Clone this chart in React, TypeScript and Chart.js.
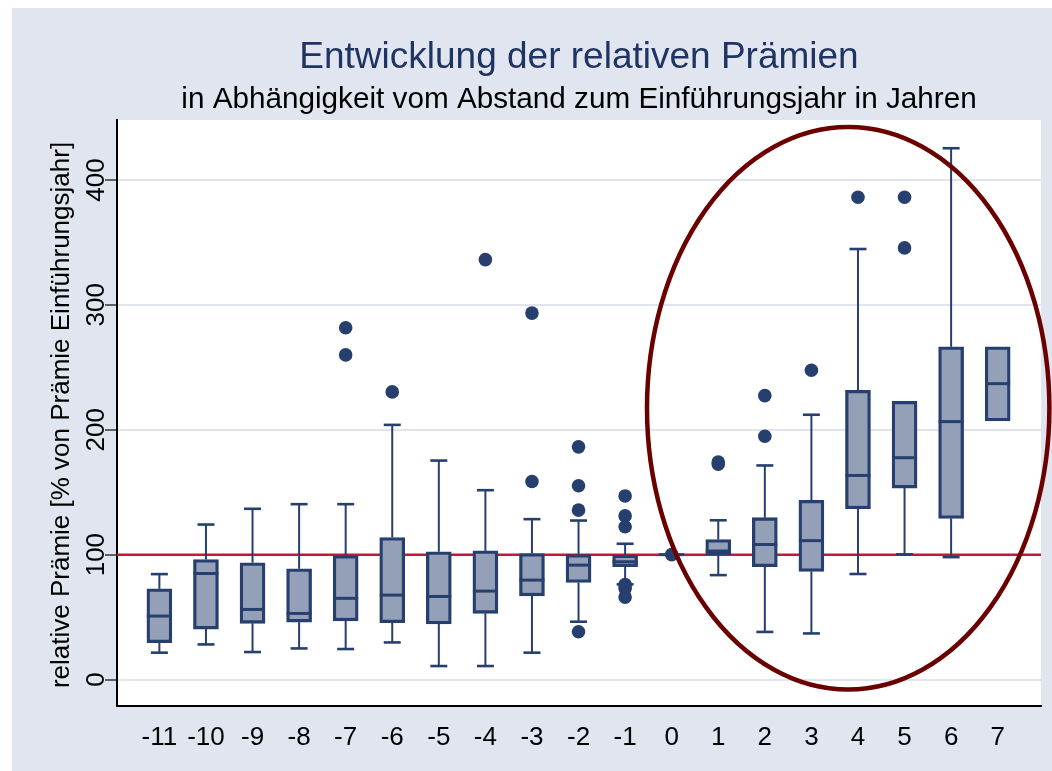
import React, { useEffect, useRef } from "react";
import { Chart, registerables } from "chart.js";

Chart.register(...registerables);

// ---- data ----
const categories = [-11, -10, -9, -8, -7, -6, -5, -4, -3, -2, -1, 0, 1, 2, 3, 4, 5, 6, 7];
const lowerQuartile = [29.5, 40.4, 45, 46, 47, 45.5, 44.5, 53, 67, 77.7, 90.3, 100, 99.8, 90.3, 86.6, 136.7, 153.3, 129, 207.1];
const medians = [50.8, 84.9, 56.1, 52.9, 65, 67.6, 66.5, 70.8, 79.6, 91.6, 94.3, 100, 102.9, 108.1, 111.2, 163.4, 177.6, 206.5, 236.9];
const upperQuartile = [72.6, 96.1, 93.5, 88.7, 99.3, 113.7, 102.3, 103, 100.9, 100.1, 99.6, 100, 112.1, 129.6, 143.5, 231.6, 222.7, 266.4, 266.4];
const whiskerLow = [21.5, 28.1, 22, 24.9, 24.4, 29.7, 10.8, 10.8, 21.5, 46.3, 76.2, 100, 83.6, 38.1, 36.9, 84.5, 100.2, 98, 207.1];
const whiskerHigh = [84.4, 124.1, 136.7, 140.4, 140.4, 203.9, 175.3, 151.6, 128.4, 127.3, 108.7, 100, 127.5, 171.4, 212, 344.7, 222.7, 425.4, 266.4];
const outlierCategory = [-7, -7, -6, -4, -3, -3, -2, -2, -2, -2, -1, -1, -1, -1, -1, -1, 0, 1, 1, 2, 2, 3, 4, 5, 5];
const outlierValue = [281.7, 259.9, 230.3, 336.2, 293.4, 158.5, 186.3, 155.1, 135.6, 38.3, 147, 131, 122.3, 76, 73, 66, 100, 174.2, 172.5, 227.3, 194.8, 247.6, 386.2, 386.2, 345.6];
const yTickValues = [0, 100, 200, 300, 400];
const referenceValue = 100;

// highlight ellipse (data coordinates)
const highlightCenterX = 3.79;
const highlightCenterY = 217.2;
const highlightRadiusX = 4.32;
const highlightRadiusY = 225.2;

const titleText = "Entwicklung der relativen Prämien";
const subtitleText = "in Abhängigkeit vom Abstand zum Einführungsjahr in Jahren";
const yTitleText = "relative Prämie [% von Prämie Einführungsjahr]";

// ---- style ----
const FONT = "'Liberation Sans', Arial, Helvetica, sans-serif";
const NAVY = "#263F6E";
const BOX_FILL = "#94A0B7";
const BG = "#E1E5F0";
const GRID = "#DFE4EE";
const RED = "#C8153A";
const MAROON = "#6B0000";

const boxPlugin = {
  id: "boxDecor",
  beforeDraw(chart: any) {
    const { ctx, chartArea: a, width, height } = chart;
    ctx.save();
    ctx.fillStyle = BG;
    ctx.fillRect(0, 0, width, height);
    ctx.fillStyle = "#FFFFFF";
    ctx.fillRect(a.left, a.top, a.right - a.left, a.bottom - a.top);
    ctx.restore();
  },
  beforeDatasetsDraw(chart: any) {
    const { ctx, chartArea: a, scales } = chart;
    const xs = scales.x;
    const ys = scales.y;
    ctx.save();
    // reference line
    const yr = ys.getPixelForValue(referenceValue);
    ctx.strokeStyle = RED;
    ctx.lineWidth = 2.5;
    ctx.beginPath();
    ctx.moveTo(a.left, yr);
    ctx.lineTo(a.right, yr);
    ctx.stroke();
    // whiskers
    ctx.strokeStyle = NAVY;
    categories.forEach((c, i) => {
      const x = xs.getPixelForValue(c);
      const pairs = [
        [upperQuartile[i], whiskerHigh[i]],
        [lowerQuartile[i], whiskerLow[i]],
      ];
      pairs.forEach(([from, to]) => {
        if (Math.abs(to - from) < 0.01) return;
        const y0 = ys.getPixelForValue(from);
        const y1 = ys.getPixelForValue(to);
        ctx.lineWidth = 2;
        ctx.beginPath();
        ctx.moveTo(x, y0);
        ctx.lineTo(x, y1);
        ctx.stroke();
        ctx.lineWidth = 2.6;
        ctx.beginPath();
        ctx.moveTo(x - 8.5, y1);
        ctx.lineTo(x + 8.5, y1);
        ctx.stroke();
      });
    });
    ctx.restore();
  },
  afterDatasetsDraw(chart: any) {
    const { ctx, chartArea: a, scales } = chart;
    const xs = scales.x;
    const ys = scales.y;
    ctx.save();
    // medians
    ctx.strokeStyle = NAVY;
    ctx.lineWidth = 3;
    categories.forEach((c, i) => {
      const x = xs.getPixelForValue(c);
      const y = ys.getPixelForValue(medians[i]);
      ctx.beginPath();
      ctx.moveTo(x - 12.5, y);
      ctx.lineTo(x + 12.5, y);
      ctx.stroke();
    });
    // highlight ellipse
    const cx = xs.getPixelForValue(highlightCenterX);
    const cy = ys.getPixelForValue(highlightCenterY);
    const rx = Math.abs(xs.getPixelForValue(highlightCenterX + highlightRadiusX) - cx);
    const ry = Math.abs(ys.getPixelForValue(highlightCenterY + highlightRadiusY) - cy);
    ctx.strokeStyle = MAROON;
    ctx.lineWidth = 4.5;
    ctx.beginPath();
    ctx.ellipse(cx, cy, rx, ry, 0, 0, Math.PI * 2);
    ctx.stroke();

    // titles
    const midX = (a.left + a.right) / 2;
    ctx.textAlign = "center";
    ctx.textBaseline = "alphabetic";
    ctx.fillStyle = "#1F3462";
    ctx.font = `37px ${FONT}`;
    ctx.fillText(titleText, midX, 60);
    ctx.fillStyle = "#000000";
    ctx.font = `29.7px ${FONT}`;
    ctx.fillText(subtitleText, midX, 100);

    // y tick labels (rotated)
    ctx.font = `26px ${FONT}`;
    ctx.textBaseline = "middle";
    yTickValues.forEach((v) => {
      const y = ys.getPixelForValue(v);
      ctx.save();
      ctx.translate(85, y);
      ctx.rotate(-Math.PI / 2);
      ctx.fillText(String(v), 0, 0);
      ctx.restore();
    });
    // y title
    ctx.save();
    ctx.translate(50, (a.top + a.bottom) / 2 + 2);
    ctx.rotate(-Math.PI / 2);
    ctx.fillText(yTitleText, 0, 0);
    ctx.restore();
    ctx.restore();
  },
};

export default function App() {
  const ref = useRef<HTMLCanvasElement>(null);

  useEffect(() => {
    if (!ref.current) return;
    const boxData = categories.map((c, i) => ({ x: c, y: [lowerQuartile[i], upperQuartile[i]] }));
    const outlierData = outlierCategory.map((c, i) => ({ x: c, y: outlierValue[i] }));

    const chart = new Chart(ref.current, {
      type: "bar",
      data: {
        datasets: [
          {
            type: "scatter",
            data: outlierData,
            pointRadius: 6.8,
            pointHoverRadius: 6.8,
            pointBackgroundColor: NAVY,
            pointBorderWidth: 0,
            showLine: false,
            order: 0,
          } as any,
          {
            type: "bar",
            data: boxData as any,
            backgroundColor: BOX_FILL,
            borderColor: NAVY,
            borderWidth: 3.3,
            borderSkipped: false,
            barThickness: 25,
            order: 1,
          } as any,
        ],
      },
      options: {
        responsive: false,
        animation: false,
        devicePixelRatio: 1,
        layout: { padding: { top: 112, right: 11, left: 0, bottom: 0 } },
        plugins: {
          legend: { display: false },
          tooltip: { enabled: false },
          title: { display: false },
        },
        scales: {
          x: {
            type: "linear",
            min: -11.91,
            max: 7.93,
            offset: false,
            afterBuildTicks: (s: any) => {
              s.ticks = categories.map((v) => ({ value: v }));
            },
            afterFit: (s: any) => {
              s.height = 65;
              s.paddingLeft = 0;
              s.paddingRight = 0;
            },
            grid: { display: false, drawTicks: false },
            border: { display: true, color: "#000000", width: 2 },
            ticks: {
              font: { family: FONT, size: 26 },
              color: "#000000",
              padding: 16,
              maxRotation: 0,
              minRotation: 0,
              autoSkip: false,
              callback: (v: any) => String(v),
            },
          },
          y: {
            type: "linear",
            min: -21.2,
            max: 448,
            afterBuildTicks: (s: any) => {
              s.ticks = yTickValues.map((v) => ({ value: v }));
            },
            afterFit: (s: any) => {
              s.width = 105;
              s.paddingTop = 0;
              s.paddingBottom = 0;
            },
            grid: {
              display: true,
              color: GRID,
              lineWidth: 2,
              drawTicks: true,
              tickLength: 12,
              tickColor: "#333333",
              tickWidth: 1.5,
            },
            border: { display: true, color: "#000000", width: 2 },
            ticks: { display: false },
          },
        },
      },
      plugins: [boxPlugin],
    });
    return () => chart.destroy();
  }, []);

  return (
    <div style={{ position: "fixed", left: 12, top: 8, width: 1040, height: 763 }}>
      <canvas ref={ref} width={1040} height={763} style={{ display: "block", width: 1040, height: 763 }} />
    </div>
  );
}
